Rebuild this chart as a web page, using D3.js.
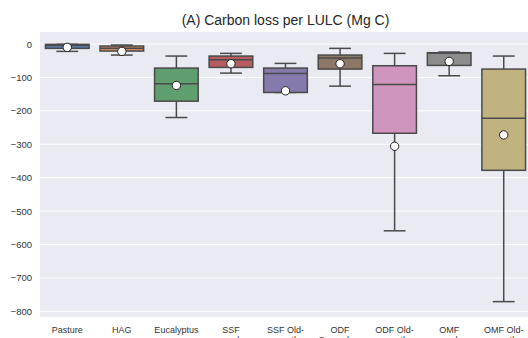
<!DOCTYPE html>
<html>
<head>
<meta charset="utf-8">
<script src="https://cdn.jsdelivr.net/npm/d3@7"></script>
<style>
  body { margin: 0; background: #fff; }
  svg { display: block; font-family: "Liberation Sans", Arial, sans-serif; }
</style>
</head>
<body>
<svg id="chart" width="528" height="338"></svg>
<script>
// categories (two-line tick labels)
const categories = ["Pasture", "HAG", "Eucalyptus", "SSF secondary", "SSF Old-growth",
    "ODF Secondary", "ODF Old-growth", "OMF secondary", "OMF Old-growth"];
const labelLines = [["Pasture"], ["HAG"], ["Eucalyptus"], ["SSF", "secondary"], ["SSF Old-", "growth"],
    ["ODF", "Secondary"], ["ODF Old-", "growth"], ["OMF", "secondary"], ["OMF Old-", "growth"]];

// box statistics (Mg C)
const whiskerHigh = [-1, -3, -36, -28, -58, -13, -28, -24, -36];
const q3          = [-1, -6, -72, -36, -72, -33, -65, -26, -75];
const medians     = [-4, -13, -119, -47, -88, -42, -121, -27, -222];
const q1          = [-13, -21, -171, -70, -145, -75, -267, -64, -378];
const whiskerLow  = [-22, -33, -220, -87, -145, -126, -559, -95, -771];
const means       = [-10, -22, -124, -59, -140, -59, -306, -52, -272];

const palette = ["#5875a4", "#cc8963", "#5f9e6e", "#b55d60", "#857aab",
    "#8d7866", "#d095bf", "#8c8c8c", "#c1b37f"];
const yTicks = [0, -100, -200, -300, -400, -500, -600, -700, -800];

const svg = d3.select("#chart");
const margin = { left: 40, top: 32, right: -3, bottom: 21 };
const width = 528, height = 338;

const x = d3.scaleBand()
    .domain(categories)
    .range([margin.left, width - margin.right])
    .paddingInner(0.2)
    .paddingOuter(0.1);

const y = d3.scaleLinear()
    .domain([-817, 36])
    .range([height - margin.bottom, margin.top]);

// background
svg.append("rect")
    .attr("x", margin.left)
    .attr("y", margin.top)
    .attr("width", width - margin.right - margin.left)
    .attr("height", height - margin.bottom - margin.top)
    .attr("fill", "#eaeaf2");

// grid
svg.append("g")
    .selectAll("line")
    .data(yTicks)
    .enter().append("line")
    .attr("x1", margin.left)
    .attr("x2", width - margin.right)
    .attr("y1", d => y(d))
    .attr("y2", d => y(d))
    .attr("stroke", "#fff")
    .attr("stroke-width", 1);

// y axis labels
const yAxis = svg.append("g")
    .attr("transform", `translate(${margin.left},0)`)
    .call(d3.axisLeft(y).tickValues(yTicks).tickSize(0).tickPadding(8)
        .tickFormat(d => d3.format("d")(d).replace("-", "\u2212")));
yAxis.select(".domain").remove();
yAxis.selectAll("text")
    .attr("font-size", "9.5px")
    .attr("fill", "#333")
    .attr("font-family", "'Liberation Sans', Arial, sans-serif");

// x axis labels (second line is clipped by the frame, as in the source image)
const xAxis = svg.append("g")
    .attr("transform", `translate(0,${height - margin.bottom})`)
    .call(d3.axisBottom(x).tickSize(0).tickPadding(6).tickFormat(""));
xAxis.select(".domain").remove();
xAxis.selectAll(".tick").each(function(d, i) {
    const t = d3.select(this).append("text")
        .attr("fill", "#333")
        .attr("font-size", "9px")
        .attr("text-anchor", "middle")
        .attr("font-family", "'Liberation Sans', Arial, sans-serif")
        .attr("y", 15.5);
    labelLines[i].forEach((ln, k) => {
        t.append("tspan").attr("x", 0).attr("dy", k === 0 ? 0 : "1.15em").text(ln);
    });
});

const edge = "#4a4a4a";
const bw = x.bandwidth();
const capW = bw * 0.5;

const boxes = svg.append("g")
    .selectAll("g")
    .data(categories)
    .enter().append("g")
    .attr("transform", d => `translate(${x(d)},0)`);

// whiskers
boxes.append("line")
    .attr("x1", bw / 2).attr("x2", bw / 2)
    .attr("y1", (d, i) => y(whiskerHigh[i]))
    .attr("y2", (d, i) => y(q3[i]))
    .attr("stroke", edge).attr("stroke-width", 1.5);
boxes.append("line")
    .attr("x1", bw / 2).attr("x2", bw / 2)
    .attr("y1", (d, i) => y(q1[i]))
    .attr("y2", (d, i) => y(whiskerLow[i]))
    .attr("stroke", edge).attr("stroke-width", 1.5);
// caps
boxes.append("line")
    .attr("x1", bw / 2 - capW / 2).attr("x2", bw / 2 + capW / 2)
    .attr("y1", (d, i) => y(whiskerHigh[i]))
    .attr("y2", (d, i) => y(whiskerHigh[i]))
    .attr("stroke", edge).attr("stroke-width", 1.5);
boxes.append("line")
    .attr("x1", bw / 2 - capW / 2).attr("x2", bw / 2 + capW / 2)
    .attr("y1", (d, i) => y(whiskerLow[i]))
    .attr("y2", (d, i) => y(whiskerLow[i]))
    .attr("stroke", edge).attr("stroke-width", 1.5);

// box body
boxes.append("rect")
    .attr("x", 0)
    .attr("width", bw)
    .attr("y", (d, i) => y(q3[i]))
    .attr("height", (d, i) => Math.max(1, y(q1[i]) - y(q3[i])))
    .attr("fill", (d, i) => palette[i])
    .attr("stroke", edge)
    .attr("stroke-width", 1.5);

// median
boxes.append("line")
    .attr("x1", 0).attr("x2", bw)
    .attr("y1", (d, i) => y(medians[i]))
    .attr("y2", (d, i) => y(medians[i]))
    .attr("stroke", edge).attr("stroke-width", 1.5);

// mean markers
boxes.append("circle")
    .attr("cx", bw / 2)
    .attr("cy", (d, i) => y(means[i]))
    .attr("r", 4.2)
    .attr("fill", "#fff")
    .attr("stroke", "#222")
    .attr("stroke-width", 1);

// title
svg.append("text")
    .attr("x", (margin.left + width - margin.right) / 2)
    .attr("y", 25)
    .attr("text-anchor", "middle")
    .attr("font-size", "14px")
    .attr("fill", "#262626")
    .text("(A) Carbon loss per LULC (Mg C)");
</script>
</body>
</html>
